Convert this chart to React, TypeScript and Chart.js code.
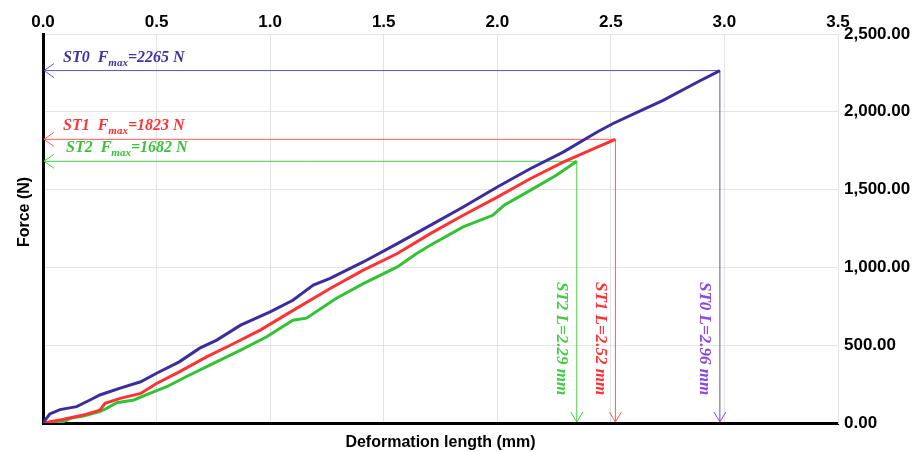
import React, { useEffect, useRef } from "react";
import { Chart, registerables } from "chart.js";

Chart.register(...registerables);

// ---- Data (deformation length in mm, force in N) ----
const st0X = [0, 0.01, 0.03, 0.075, 0.148, 0.207, 0.25, 0.34, 0.43, 0.5, 0.6, 0.69, 0.765, 0.87, 1.0, 1.1, 1.19, 1.264, 1.41, 1.56, 1.705, 1.85, 2.0, 2.145, 2.29, 2.44, 2.51, 2.62, 2.73, 2.88, 2.98];
const st0Y = [0, 20, 58, 86, 105, 148, 180, 224, 265, 320, 393, 481, 533, 629, 714, 789, 886, 929, 1035, 1153, 1270, 1388, 1517, 1634, 1741, 1870, 1925, 2000, 2073, 2190, 2265];

const st1X = [0, 0.075, 0.178, 0.25, 0.273, 0.34, 0.43, 0.5, 0.6, 0.72, 0.84, 0.956, 1.09, 1.264, 1.41, 1.56, 1.705, 1.85, 2.0, 2.145, 2.29, 2.44, 2.52];
const st1Y = [0, 19, 51, 83, 126, 158, 190, 254, 329, 425, 511, 597, 714, 864, 982, 1089, 1217, 1335, 1452, 1570, 1677, 1773, 1823];

const st2X = [0, 0.09, 0.12, 0.178, 0.25, 0.28, 0.325, 0.4, 0.47, 0.545, 0.63, 0.75, 0.87, 0.985, 1.1, 1.16, 1.29, 1.41, 1.56, 1.645, 1.705, 1.85, 1.98, 2.03, 2.145, 2.26, 2.35];
const st2Y = [0, 8, 30, 45, 73, 94, 130, 148, 190, 233, 297, 383, 468, 554, 661, 674, 800, 896, 1003, 1089, 1142, 1260, 1335, 1399, 1495, 1592, 1682];

const seriesNames = ["ST0", "ST1", "ST2"];
const fmaxValues = [2265, 1823, 1682];
const lengthLabels = ["2.96", "2.52", "2.29"];

const curveColors = ["#3a2e9c", "#ff3333", "#33c233"];
const guideColors = ["#5a52c4", "#ff5a5a", "#45cc45"];
const hTextColors = ["#3d34aa", "#ff3333", "#3cc03c"];
const vTextColors = ["#8a48e0", "#ff3333", "#44cc44"];

const xTitle = "Deformation length (mm)";
const yTitle = "Force (N)";

const toPoints = (xs: number[], ys: number[]) => xs.map((x, i) => ({ x, y: ys[i] }));
const allX = [st0X, st1X, st2X];
const allY = [st0Y, st1Y, st2Y];

const annotPlugin = {
  id: "annot",
  beforeDatasetsDraw(chart: any) {
    const ctx = chart.ctx;
    const xs = chart.scales.x;
    const ys = chart.scales.y;
    const x0 = xs.getPixelForValue(0);
    const y0 = ys.getPixelForValue(0);
    ctx.save();
    for (let i = 0; i < 3; i++) {
      const ex = xs.getPixelForValue(allX[i][allX[i].length - 1]);
      const ey = ys.getPixelForValue(fmaxValues[i]);
      ctx.strokeStyle = guideColors[i];
      ctx.lineWidth = 1;
      ctx.beginPath();
      ctx.moveTo(ex, ey);
      ctx.lineTo(x0 + 1, ey);
      ctx.moveTo(ex, ey);
      ctx.lineTo(ex, y0 - 1);
      ctx.stroke();
      // left arrow head
      ctx.beginPath();
      ctx.moveTo(x0 + 11, ey - 7);
      ctx.lineTo(x0 + 1, ey);
      ctx.lineTo(x0 + 11, ey + 7);
      ctx.stroke();
      // down arrow head
      ctx.strokeStyle = i === 0 ? vTextColors[0] : guideColors[i];
      ctx.beginPath();
      ctx.moveTo(ex - 6, y0 - 11);
      ctx.lineTo(ex, y0 - 1);
      ctx.lineTo(ex + 6, y0 - 11);
      ctx.stroke();
    }
    ctx.restore();
  },
  afterDatasetsDraw(chart: any) {
    const ctx = chart.ctx;
    const xs = chart.scales.x;
    const ys = chart.scales.y;
    const x0 = xs.getPixelForValue(0);
    const top = chart.chartArea.top;
    ctx.save();
    for (let i = 0; i < 3; i++) {
      const ex = xs.getPixelForValue(allX[i][allX[i].length - 1]);
      const ey = ys.getPixelForValue(fmaxValues[i]);
      // horizontal label
      ctx.fillStyle = hTextColors[i];
      ctx.textAlign = "left";
      ctx.textBaseline = "alphabetic";
      const big = "italic bold 16px 'Liberation Serif', 'Times New Roman', serif";
      const small = "italic bold 11px 'Liberation Serif', 'Times New Roman', serif";
      let tx = x0 + 20 + (i === 2 ? 3 : 0);
      const by = ey - 9;
      ctx.font = big;
      const p1 = seriesNames[i] + "  F";
      ctx.fillText(p1, tx, by);
      tx += ctx.measureText(p1).width;
      ctx.font = small;
      ctx.fillText("max", tx, by + 4);
      tx += ctx.measureText("max").width;
      ctx.font = big;
      ctx.fillText("=" + fmaxValues[i] + " N", tx, by);
      // vertical label
      ctx.save();
      ctx.fillStyle = vTextColors[i];
      ctx.translate(ex - 15, top + 248);
      ctx.rotate(Math.PI / 2);
      ctx.font = "italic bold 17px 'Liberation Serif', 'Times New Roman', serif";
      ctx.textBaseline = "middle";
      ctx.textAlign = "left";
      ctx.fillText(seriesNames[i] + " L=" + lengthLabels[i] + " mm", 0, 0);
      ctx.restore();
    }
    // y axis title
    ctx.save();
    ctx.fillStyle = "#000";
    ctx.font = "bold 16px 'Liberation Sans', Arial, sans-serif";
    ctx.textAlign = "center";
    ctx.textBaseline = "middle";
    ctx.translate(25, top + 178);
    ctx.rotate(-Math.PI / 2);
    ctx.fillText(yTitle, 0, 0);
    ctx.restore();
    ctx.restore();
  },
};

export default function App() {
  const ref = useRef<HTMLCanvasElement>(null);
  useEffect(() => {
    document.body.style.margin = "0";
    const canvas = ref.current!;
    const tickFont = { family: "'Liberation Sans', Arial, sans-serif", size: 17, weight: "bold" as const };
    const titleFont = { family: "'Liberation Sans', Arial, sans-serif", size: 16, weight: "bold" as const };
    const chart = new Chart(canvas, {
      type: "line",
      data: {
        datasets: [0, 1, 2].map((i) => ({
          label: seriesNames[i],
          data: toPoints(allX[i], allY[i]),
          borderColor: curveColors[i],
          backgroundColor: curveColors[i],
          borderWidth: 3,
          pointRadius: 0,
          tension: 0,
          xAxisID: "x",
          yAxisID: "y",
        })),
      },
      options: {
        animation: false,
        responsive: false,
        devicePixelRatio: 1,
        layout: { padding: 0 },
        plugins: { legend: { display: false }, tooltip: { enabled: false } },
        scales: {
          x: {
            type: "linear",
            position: "top",
            min: 0,
            max: 3.5,
            ticks: {
              stepSize: 0.5,
              color: "#000",
              font: tickFont,
              padding: 1,
              maxRotation: 0,
              callback: (v: any) => Number(v).toFixed(1),
            },
            grid: { color: "#e3e3e3", drawTicks: false, lineWidth: 1 },
            border: { color: "#e3e3e3", width: 1 },
            afterFit: (s: any) => { s.height = 34; },
          },
          xb: {
            type: "linear",
            position: "bottom",
            min: 0,
            max: 3.5,
            ticks: { display: false },
            grid: { display: false, drawTicks: false },
            border: { color: "#000", width: 3 },
            title: { display: true, text: xTitle, color: "#000", font: titleFont, padding: { top: 0, bottom: 0 } },
            afterFit: (s: any) => { s.height = 29; },
          },
          y: {
            type: "linear",
            position: "right",
            min: 0,
            max: 2500,
            ticks: {
              stepSize: 500,
              color: "#000",
              font: tickFont,
              padding: 6,
              callback: (v: any) =>
                Number(v).toLocaleString("en-US", { minimumFractionDigits: 2, maximumFractionDigits: 2 }),
            },
            grid: { color: "#e3e3e3", drawTicks: false, lineWidth: 1 },
            border: { color: "#e3e3e3", width: 1 },
            afterFit: (s: any) => { s.width = 81; },
          },
          yl: {
            type: "linear",
            position: "left",
            min: 0,
            max: 2500,
            ticks: { display: false },
            grid: { display: false, drawTicks: false },
            border: { color: "#000", width: 3 },
            title: { display: false },
            afterFit: (s: any) => { s.width = 43; },
          },
        },
      } as any,
      plugins: [annotPlugin],
    });
    return () => chart.destroy();
  }, []);
  return (
    <div style={{ width: 919, height: 452 }}>
      <canvas ref={ref} width={919} height={452} style={{ display: "block" }} />
    </div>
  );
}
